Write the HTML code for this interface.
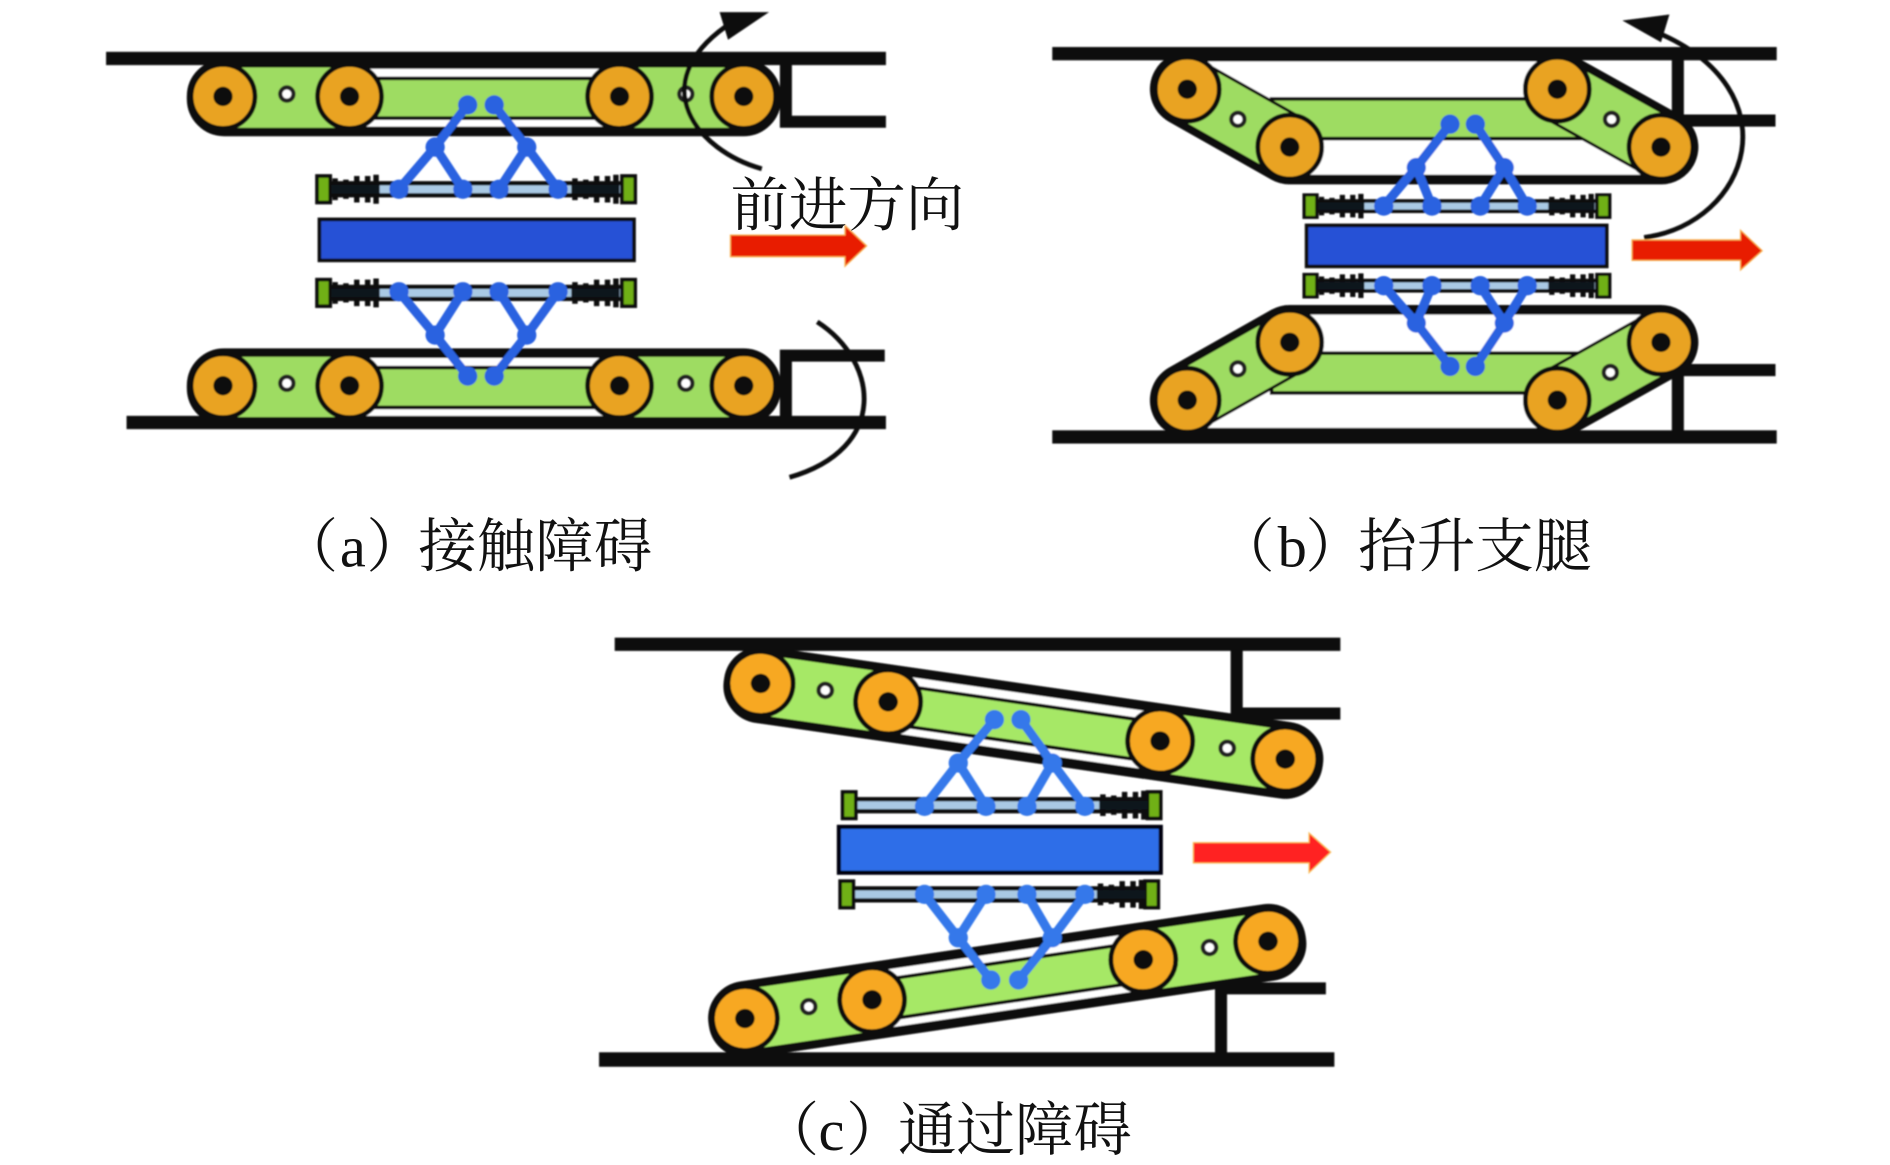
<!DOCTYPE html>
<html><head><meta charset="utf-8"><style>
html,body{margin:0;padding:0;background:#fff}
svg{display:block}
text{font-family:"Liberation Serif","Noto Serif CJK SC",serif;fill:#111;font-size:48.5px}
.o{fill:var(--o,#e9a321)}
.g{fill:var(--g,#9edc62)}
</style></head><body>
<svg width="1890" height="1165" viewBox="0 0 1568 966.5" xmlns="http://www.w3.org/2000/svg">
<defs>
<filter id="b" x="-2%" y="-2%" width="104%" height="104%"><feGaussianBlur stdDeviation="0.7"/></filter>
<g id="wheel"><circle class="o" r="26.5" stroke="#0a0a0a" stroke-width="4"/><circle r="8" fill="#0a0a0a"/></g>
<circle id="pin" r="5.5" fill="#fff" stroke="#222" stroke-width="3.5"/>
<g id="track">
<rect x="-26" y="-27" width="485" height="56" rx="27" fill="#fff" stroke="#0a0a0a" stroke-width="8"/>
<rect class="g" x="0" y="-24" width="105" height="50"/>
<rect class="g" x="330" y="-24" width="103" height="50"/>
<rect class="g" x="105" y="-15" width="225" height="33" stroke="#111" stroke-width="3"/>
<use href="#wheel" x="0" y="0"/><use href="#wheel" x="105" y="0"/><use href="#wheel" x="329" y="0"/><use href="#wheel" x="432" y="0"/>
<use href="#pin" x="53" y="-2"/><use href="#pin" x="384" y="-2"/>
</g>
<g id="spring" fill="none" stroke="#0a0a0a" stroke-width="4.5">
<path d="M3-9V9M12-8V8M21-11V11M30-11V11M37-12V12"/>
<path d="M0 0H40" stroke="#10141f" stroke-width="7"/>
</g>
<g id="bar0">
<rect x="8" y="-5" width="248" height="10" fill="#a9c9e4" stroke="#0a0a0a" stroke-width="3.5"/>
<rect x="0" y="-11" width="11" height="22" fill="#6fb012" stroke="#0a0a0a" stroke-width="3"/>
<rect x="253" y="-11" width="11" height="22" fill="#6fb012" stroke="#0a0a0a" stroke-width="3"/>
</g>
<g id="bar">
<use href="#bar0"/>
<use href="#spring" x="12"/><use href="#spring" x="211"/>
</g>
</defs>
<g filter="url(#b)">
<!-- panel a -->
<rect x="88" y="43" width="647" height="11" fill="#0a0a0a"/>
<rect x="105" y="345" width="630" height="11" fill="#0a0a0a"/>
<use href="#track" x="185" y="80"/>
<use href="#track" x="185" y="320"/>
<path d="M652 50V101H735M734 295H652V350" fill="none" stroke="#0a0a0a" stroke-width="10"/>
<path d="M632 140C578 125 535 70 602 22" fill="none" stroke="#111" stroke-width="4"/>
<path d="M597 10H638L604 33Z" fill="#0a0a0a"/>
<path d="M678 267C729 300 738 372 655 396" fill="none" stroke="#111" stroke-width="4"/>
<use href="#bar" x="263" y="157"/><use href="#bar" x="263" y="243"/>
<rect x="265" y="182" width="261" height="34" fill="#2551d6" stroke="#0a0a0e" stroke-width="3"/>
<g fill="none" stroke="#2a62e0" stroke-width="7.5">
<path d="M331 157L361 122L384 157M361 122L388 87M463 157L437 122L414 157M437 122L410 87"/>
<path d="M331 242L361 278L384 242M361 278L388 312M463 242L437 278L414 242M437 278L410 312"/>
</g>
<g fill="#2a62e0">
<circle cx="331" cy="157" r="8"/><circle cx="384" cy="157" r="8"/><circle cx="414" cy="157" r="8"/><circle cx="463" cy="157" r="8"/>
<circle cx="361" cy="122" r="8"/><circle cx="437" cy="122" r="8"/><circle cx="388" cy="87" r="8"/><circle cx="410" cy="87" r="8"/>
<circle cx="331" cy="242" r="8"/><circle cx="384" cy="242" r="8"/><circle cx="414" cy="242" r="8"/><circle cx="463" cy="242" r="8"/>
<circle cx="361" cy="278" r="8"/><circle cx="437" cy="278" r="8"/><circle cx="388" cy="312" r="8"/><circle cx="410" cy="312" r="8"/>
</g>
<path d="M606 195H701V187L719 204L701 221V213H606Z" fill="#e81d02" stroke="#f8b050" stroke-width="1"/>

<!-- panel b -->
<rect x="873" y="39" width="601" height="11" fill="#0a0a0a"/>
<rect x="873" y="357" width="601" height="11" fill="#0a0a0a"/>
<path d="M1392 44V100H1473M1473 307H1392V362" fill="none" stroke="#0a0a0a" stroke-width="10"/>
<polygon points="985,74 1292,74 1378,122 1070,122" fill="#0a0a0a" stroke="#0a0a0a" stroke-width="62" stroke-linejoin="round"/>
<polygon points="985,74 1292,74 1378,122 1070,122" fill="#fff" stroke="#fff" stroke-width="46" stroke-linejoin="round"/>
<polygon points="985,332 1292,332 1378,284 1070,284" fill="#0a0a0a" stroke="#0a0a0a" stroke-width="62" stroke-linejoin="round"/>
<polygon points="985,332 1292,332 1378,284 1070,284" fill="#fff" stroke="#fff" stroke-width="46" stroke-linejoin="round"/>
<rect class="g" x="1055" y="82" width="260" height="33" stroke="#111" stroke-width="3"/>
<rect class="g" x="1055" y="293" width="260" height="33" stroke="#111" stroke-width="3"/>
<g stroke="#111" stroke-width="54"><path d="M985 74L1070 122M1292 74L1378 122M985 332L1070 284M1292 332L1378 284"/></g>
<g stroke="#9edc62" stroke-width="49"><path d="M985 74L1070 122M1292 74L1378 122M985 332L1070 284M1292 332L1378 284"/></g>
<use href="#wheel" x="985" y="74"/><use href="#wheel" x="1070" y="122"/><use href="#wheel" x="1292" y="74"/><use href="#wheel" x="1378" y="122"/>
<use href="#wheel" x="985" y="332"/><use href="#wheel" x="1070" y="284"/><use href="#wheel" x="1292" y="332"/><use href="#wheel" x="1378" y="284"/>
<use href="#pin" x="1027" y="99"/><use href="#pin" x="1337" y="99"/><use href="#pin" x="1027" y="306"/><use href="#pin" x="1336" y="309"/>
<path d="M1364 197C1452 185 1488 75 1375 27" fill="none" stroke="#111" stroke-width="4"/>
<path d="M1346 17L1385 12L1378 35Z" fill="#0a0a0a"/>
<g transform="translate(1082 171) scale(.96 .85)"><use href="#bar"/></g>
<g transform="translate(1082 237) scale(.96 .85)"><use href="#bar"/></g>
<rect x="1084" y="187" width="249" height="34" fill="#2551d6" stroke="#0a0a0e" stroke-width="3"/>
<g fill="none" stroke="#2a62e0" stroke-width="7.5">
<path d="M1148 171L1175 139L1188 171M1175 139L1203 103M1267 171L1248 139L1228 171M1248 139L1224 103"/>
<path d="M1148 237L1175 268L1188 237M1175 268L1203 304M1267 237L1248 268L1228 237M1248 268L1224 304"/>
</g>
<g fill="#2a62e0">
<circle cx="1148" cy="171" r="8"/><circle cx="1188" cy="171" r="8"/><circle cx="1228" cy="171" r="8"/><circle cx="1267" cy="171" r="8"/>
<circle cx="1175" cy="139" r="8"/><circle cx="1248" cy="139" r="8"/><circle cx="1203" cy="103" r="8"/><circle cx="1224" cy="103" r="8"/>
<circle cx="1148" cy="237" r="8"/><circle cx="1188" cy="237" r="8"/><circle cx="1228" cy="237" r="8"/><circle cx="1267" cy="237" r="8"/>
<circle cx="1175" cy="268" r="8"/><circle cx="1248" cy="268" r="8"/><circle cx="1203" cy="304" r="8"/><circle cx="1224" cy="304" r="8"/>
</g>
<path d="M1354 199H1444V191L1462 208L1444 224V216H1354Z" fill="#e81d02" stroke="#f8b050" stroke-width="1"/>

<!-- panel c -->
<rect x="510" y="529" width="602" height="11" fill="#0a0a0a"/>
<rect x="497" y="873" width="610" height="12" fill="#0a0a0a"/>
<path d="M1026 534V592H1112M1100 820H1013V878" fill="none" stroke="#0a0a0a" stroke-width="10"/>
<g style="--o:#f7a823;--g:#a6e866">
<g transform="translate(631 567) rotate(8.2) scale(1.018 1)"><use href="#track"/></g>
<g transform="translate(618 845) rotate(-8.4) scale(1.0155 1)"><use href="#track"/></g>
</g>
<g transform="translate(699 668)"><use href="#bar0"/><use href="#spring" x="213"/></g>
<g transform="translate(697 742)"><use href="#bar0"/><use href="#spring" x="213"/></g>
<rect x="696" y="686" width="267" height="38" fill="#2f6ee8" stroke="#06060e" stroke-width="3.5"/>
<g fill="none" stroke="#3478ea" stroke-width="7.5">
<path d="M767 669L795 633L818 669M795 633L825 597M900 669L873 633L852 669M873 633L847 597"/>
<path d="M767 742L795 778L818 742M795 778L822 813M900 742L873 778L852 742M873 778L845 813"/>
</g>
<g fill="#3478ea">
<circle cx="767" cy="669" r="8"/><circle cx="818" cy="669" r="8"/><circle cx="852" cy="669" r="8"/><circle cx="900" cy="669" r="8"/>
<circle cx="795" cy="633" r="8"/><circle cx="873" cy="633" r="8"/><circle cx="825" cy="597" r="8"/><circle cx="847" cy="597" r="8"/>
<circle cx="767" cy="742" r="8"/><circle cx="818" cy="742" r="8"/><circle cx="852" cy="742" r="8"/><circle cx="900" cy="742" r="8"/>
<circle cx="795" cy="778" r="8"/><circle cx="873" cy="778" r="8"/><circle cx="822" cy="813" r="8"/><circle cx="845" cy="813" r="8"/>
</g>
<path d="M990 699H1086V691L1104 707L1086 724V716H990Z" fill="#ff2020" stroke="#f8c060" stroke-width="1"/>
</g>

<text x="606" y="187">前进方向</text>
<text x="232" y="470">（</text><text x="282" y="470">a</text><text x="304" y="470">）</text><text x="347" y="470">接触障碍</text>
<text x="1009" y="470">（</text><text x="1060" y="470">b</text><text x="1083" y="470">）</text><text x="1127" y="470">抬升支腿</text>
<text x="631" y="954">（</text><text x="679" y="954">c</text><text x="702" y="954">）</text><text x="745" y="954">通过障碍</text>
</svg>
</body></html>
